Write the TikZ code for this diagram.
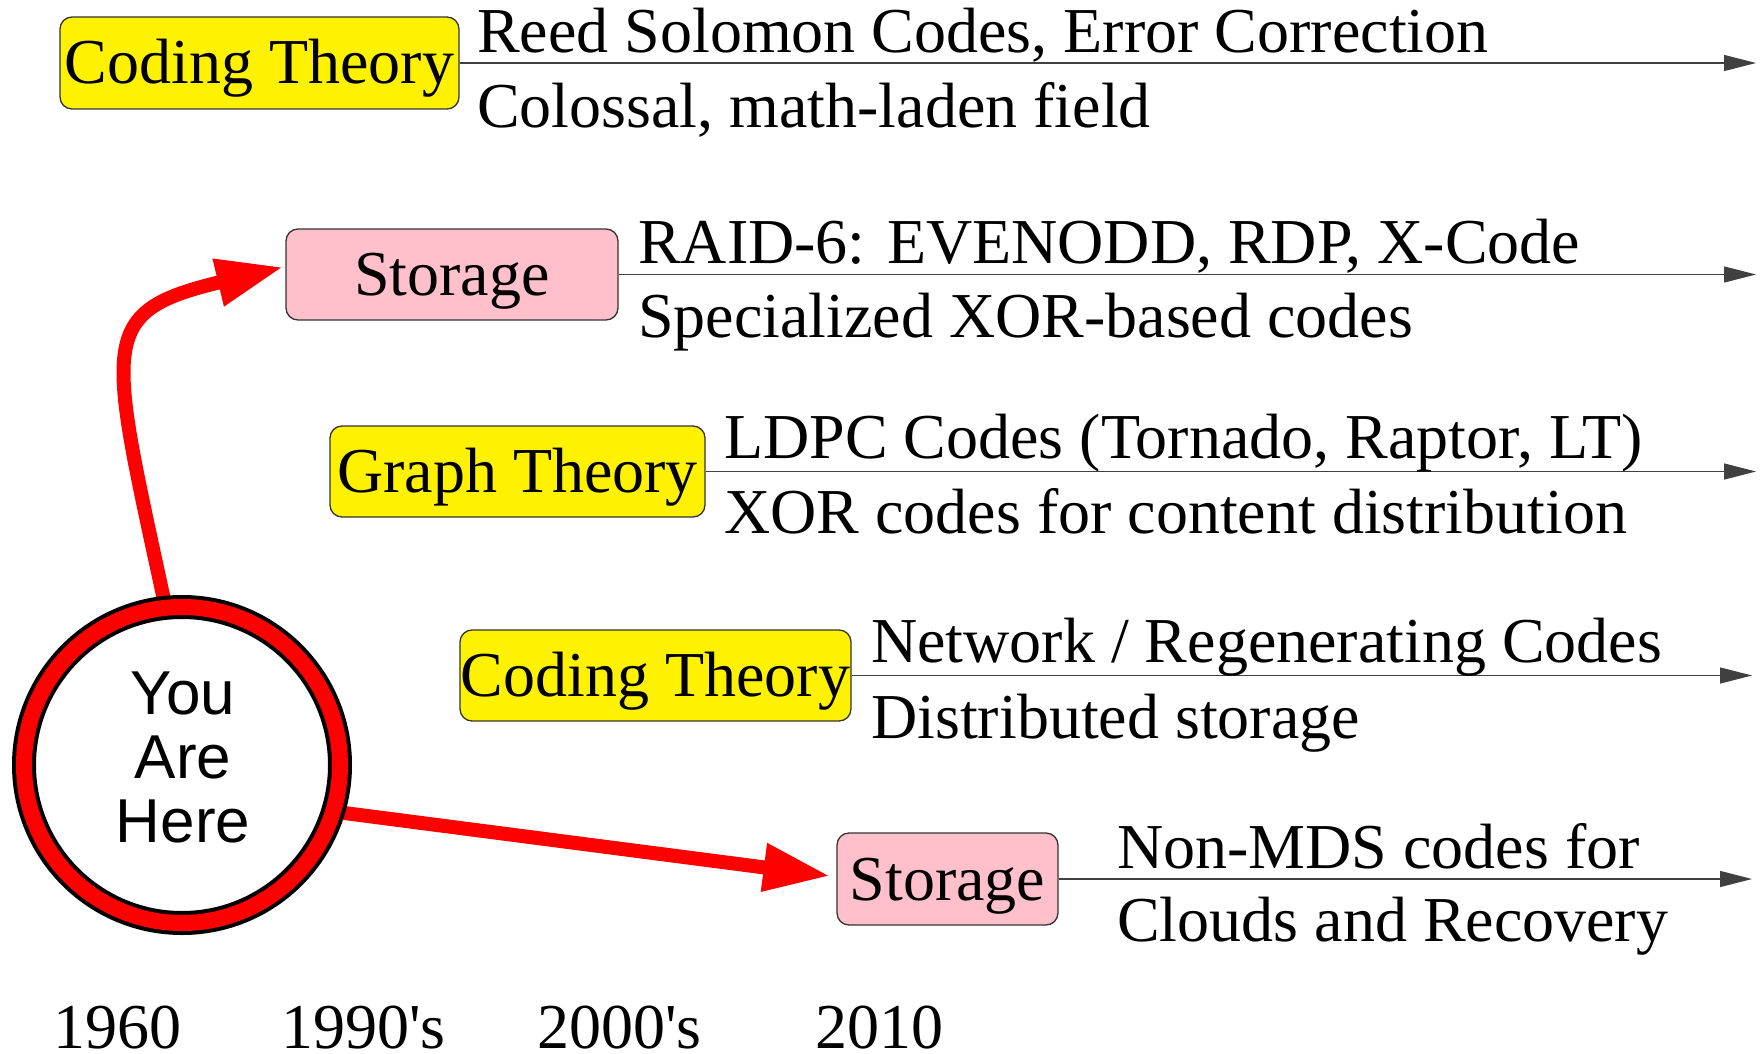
\documentclass[tikz,border=0pt]{standalone}
\usepackage{fontspec}
\setmainfont{Liberation Serif}
\setsansfont{Liberation Sans}
\usetikzlibrary{arrows.meta,calc}
\definecolor{pinkbox}{RGB}{255,192,203}
\pgfdeclarelayer{bg}
\pgfsetlayers{bg,main}
\begin{document}
\begin{tikzpicture}[x=1pt,y=-1pt,
  box/.style={draw=black!80, line width=1.3pt, rounded corners=12pt, inner sep=0pt,
    text height=42pt, text depth=0pt, font=\fontsize{64}{64}\selectfont},
  ybox/.style={box, fill=yellow},
  pbox/.style={box, fill=pinkbox},
  lbl/.style={anchor=base west, inner sep=0pt, font=\fontsize{64}{64}\selectfont},
  yr/.style={lbl, text depth=0pt},
  tl/.style={draw=black!75, line width=1.3pt, -{Triangle[length=32pt,width=16pt]}},
  redarrow/.style={draw=red, line width=14pt, -{Triangle[length=67pt,width=45pt]}},
  yahring/.style={circle, draw=black, line width=4pt, double=red, double distance=16pt,
    fill=white, minimum size=316pt, inner sep=0pt},
  yahtext/.style={align=center, inner sep=0pt, font=\sffamily\fontsize{62}{64}\selectfont}
]
\useasboundingbox (0,0) rectangle (1761,1054);

% boxes
\node[ybox, minimum width=399pt, minimum height=92pt] (b1) at (259.5,63) {Coding Theory};
\node[pbox, minimum width=332pt, minimum height=91pt] (b2) at (452,274.5) {Storage};
\node[ybox, minimum width=375pt, minimum height=91pt] (b3) at (517.5,471.5) {Graph Theory};
\node[ybox, minimum width=391pt, minimum height=91pt] (b4) at (655.5,675.5) {Coding Theory};
\node[pbox, minimum width=221pt, minimum height=92pt] (b5) at (947.5,879) {Storage};

% timeline ends
\coordinate (e1) at (1756,63);
\coordinate (e2) at (1756,274.5);
\coordinate (e3) at (1756,471.5);
\coordinate (e4) at (1752,675.5);
\coordinate (e5) at (1752,879);

\draw[tl] (b1.east) -- (e1);
\draw[tl] (b2.east) -- (e2);
\draw[tl] (b3.east) -- (e3);
\draw[tl] (b4.east) -- (e4);
\draw[tl] (b5.east) -- (e5);

% labels
\node[lbl] (r1a) at (477,53) {Reed Solomon Codes, Error Correction};
\node[lbl] (r1b) at (477,128) {Colossal, math-laden field};
\node[lbl] (r2a) at (638,263) {RAID-6: EVENODD, RDP, X-Code};
\node[lbl] (r2b) at (638,337) {Specialized XOR-based codes};
\node[lbl] (r3a) at (724,458) {LDPC Codes (Tornado, Raptor, LT)};
\node[lbl] (r3b) at (724,533.5) {XOR codes for content distribution};
\node[lbl] (r4a) at (871,662.6) {Network / Regenerating Codes};
\node[lbl] (r4b) at (871,738) {Distributed storage};
\node[lbl] (r5a) at (1117,868) {Non-MDS codes for};
\node[lbl] (r5b) at (1117,941) {Clouds and Recovery};

% years
\node[yr] (y1) at (53,1048) {1960};
\node[yr] (y2) at (281,1048) {1990\textquotesingle s};
\node[yr] (y3) at (537,1048) {2000\textquotesingle s};
\node[yr] (y4) at (815,1048) {2010};

% you are here
\node[yahring] (yah) at (182,765) {};
\node[yahtext] (yaht) at ($(yah.center)+(1,-7.2)$) {You\\Are\\Here};

\coordinate (t1) at ($(b2.west)+(-2,-7.5)$);
\coordinate (t2) at ($(b5.west)+(-6,-3)$);
\begin{pgfonlayer}{bg}
\draw[redarrow] (yah.96) .. controls (108,340) and (95,312) .. (t1);
\draw[redarrow] (yah.-17) -- (t2);
\end{pgfonlayer}
\end{tikzpicture}
\end{document}
